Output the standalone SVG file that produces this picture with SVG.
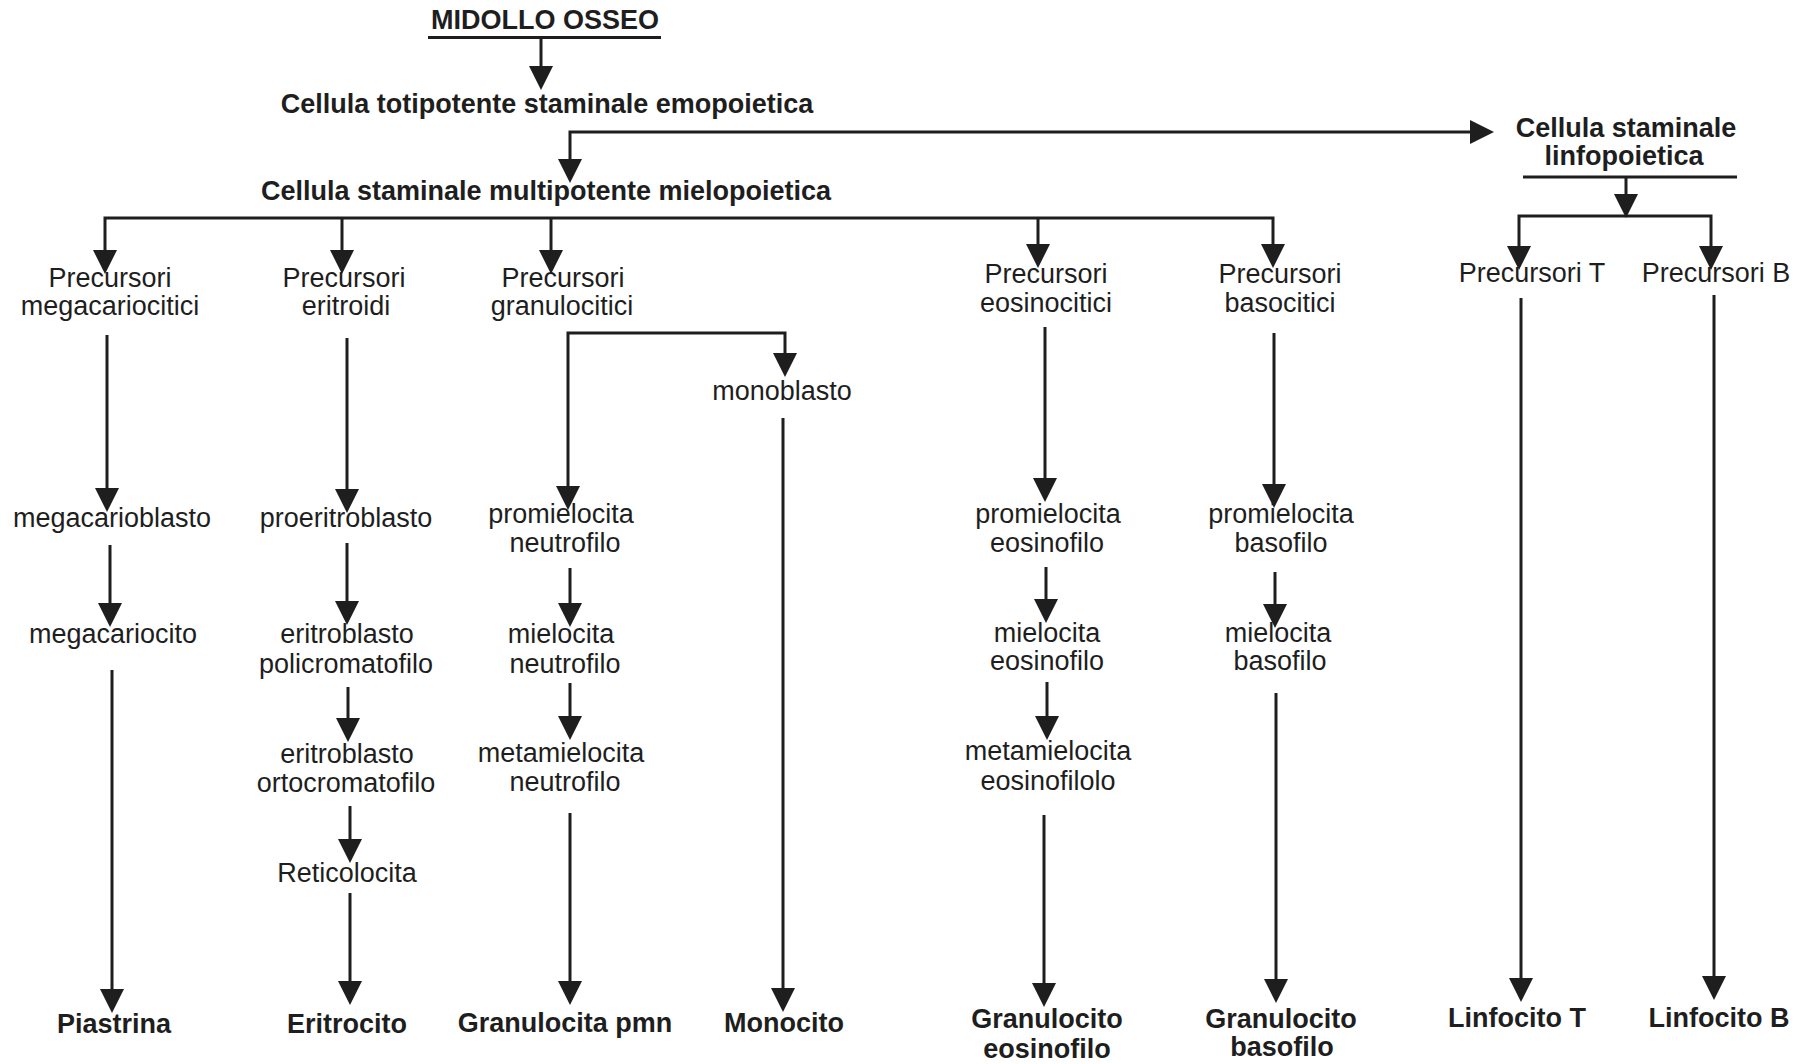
<svg xmlns="http://www.w3.org/2000/svg" width="1798" height="1064" viewBox="0 0 1798 1064">
<style>
.t{font-family:"Liberation Sans",Arial,sans-serif;font-size:27px;fill:#1e1e1e;text-anchor:middle}
.b{font-weight:bold}
.c{stroke:#1e1e1e;stroke-width:3;fill:none}
.a{marker-end:url(#ah)}
.s{marker-start:url(#ah)}
</style>
<defs>
<marker id="ah" markerUnits="userSpaceOnUse" markerWidth="24" markerHeight="24" viewBox="0 0 24 24" refX="18" refY="12" orient="auto-start-reverse"><path d="M0,0 L24,12 L0,24 z" fill="#1e1e1e"/></marker>
</defs>
<rect width="1798" height="1064" fill="#fff"/>
<g id="connectors">
<path class="c a" d="M541 38 V84"/>
<path class="c a s" d="M570 177 V132 H1488"/>
<path class="c a s" d="M105 268 V218 H1273 V262"/>
<path class="c a" d="M342 218 V268"/>
<path class="c a" d="M551 218 V268"/>
<path class="c a" d="M1038 218 V262"/>
<path class="c a" d="M1626 177 V212"/>
<path class="c a s" d="M1519 264 V216 H1711 V264"/>
<path class="c a s" d="M568 504 V333 H785 V371"/>
<path class="c a" d="M107 335 V506"/>
<path class="c a" d="M110 545 V621"/>
<path class="c a" d="M112 670 V1007"/>
<path class="c a" d="M347 338 V507"/>
<path class="c a" d="M347 543 V619"/>
<path class="c a" d="M348 687 V736"/>
<path class="c a" d="M350 806 V857"/>
<path class="c a" d="M350 893 V999"/>
<path class="c a" d="M570 568 V621"/>
<path class="c a" d="M570 683 V734"/>
<path class="c a" d="M570 813 V999"/>
<path class="c a" d="M783 418 V1006"/>
<path class="c a" d="M1045 327 V496"/>
<path class="c a" d="M1046 567 V617"/>
<path class="c a" d="M1047 682 V734"/>
<path class="c a" d="M1044 815 V1001"/>
<path class="c a" d="M1274 333 V502"/>
<path class="c a" d="M1275 572 V622"/>
<path class="c a" d="M1276 693 V997"/>
<path class="c a" d="M1521 298 V996"/>
<path class="c a" d="M1714 295 V994"/>
</g>
<g id="midollo"><text class="t b" x="545" y="29">MIDOLLO OSSEO</text><path class="c" d="M428 37.5 H661"/></g>
<g id="totipotente"><text class="t b" x="547" y="113">Cellula totipotente staminale emopoietica</text></g>
<g id="multipotente"><text class="t b" x="546" y="200">Cellula staminale multipotente mielopoietica</text></g>
<g id="linfopoietica"><text class="t b" x="1626" y="137">Cellula staminale</text><text class="t b" x="1624" y="165">linfopoietica</text><path class="c" d="M1523 177 H1737"/></g>
<g id="prec-mega"><text class="t" x="110" y="287">Precursori</text><text class="t" x="110" y="315">megacariocitici</text></g>
<g id="prec-eritro"><text class="t" x="344" y="287">Precursori</text><text class="t" x="346" y="315">eritroidi</text></g>
<g id="prec-granulo"><text class="t" x="563" y="287">Precursori</text><text class="t" x="562" y="315">granulocitici</text></g>
<g id="prec-eosino"><text class="t" x="1046" y="283">Precursori</text><text class="t" x="1046" y="312">eosinocitici</text></g>
<g id="prec-baso"><text class="t" x="1280" y="283">Precursori</text><text class="t" x="1280" y="312">basocitici</text></g>
<g id="prec-t"><text class="t" x="1532" y="282">Precursori T</text></g>
<g id="prec-b"><text class="t" x="1716" y="282">Precursori B</text></g>
<g id="megacarioblasto"><text class="t" x="112" y="527">megacarioblasto</text></g>
<g id="megacariocito"><text class="t" x="113" y="643">megacariocito</text></g>
<g id="piastrina"><text class="t b" x="114" y="1033">Piastrina</text></g>
<g id="proeritroblasto"><text class="t" x="346" y="527">proeritroblasto</text></g>
<g id="eritro-poli"><text class="t" x="347" y="643">eritroblasto</text><text class="t" x="346" y="673">policromatofilo</text></g>
<g id="eritro-orto"><text class="t" x="347" y="763">eritroblasto</text><text class="t" x="346" y="792">ortocromatofilo</text></g>
<g id="reticolocita"><text class="t" x="347" y="882">Reticolocita</text></g>
<g id="eritrocito"><text class="t b" x="347" y="1033">Eritrocito</text></g>
<g id="promielo-neutro"><text class="t" x="561" y="523">promielocita</text><text class="t" x="565" y="552">neutrofilo</text></g>
<g id="mielo-neutro"><text class="t" x="561" y="643">mielocita</text><text class="t" x="565" y="673">neutrofilo</text></g>
<g id="metamielo-neutro"><text class="t" x="561" y="762">metamielocita</text><text class="t" x="565" y="791">neutrofilo</text></g>
<g id="granulocita-pmn"><text class="t b" x="565" y="1032">Granulocita pmn</text></g>
<g id="monoblasto"><text class="t" x="782" y="400">monoblasto</text></g>
<g id="monocito"><text class="t b" x="784" y="1032">Monocito</text></g>
<g id="promielo-eosino"><text class="t" x="1048" y="523">promielocita</text><text class="t" x="1047" y="552">eosinofilo</text></g>
<g id="mielo-eosino"><text class="t" x="1047" y="642">mielocita</text><text class="t" x="1047" y="670">eosinofilo</text></g>
<g id="metamielo-eosino"><text class="t" x="1048" y="760">metamielocita</text><text class="t" x="1048" y="790">eosinofilolo</text></g>
<g id="granulocito-eosino"><text class="t b" x="1047" y="1028">Granulocito</text><text class="t b" x="1047" y="1058">eosinofilo</text></g>
<g id="promielo-baso"><text class="t" x="1281" y="523">promielocita</text><text class="t" x="1281" y="552">basofilo</text></g>
<g id="mielo-baso"><text class="t" x="1278" y="642">mielocita</text><text class="t" x="1280" y="670">basofilo</text></g>
<g id="granulocito-baso"><text class="t b" x="1281" y="1028">Granulocito</text><text class="t b" x="1282" y="1056">basofilo</text></g>
<g id="linfocito-t"><text class="t b" x="1517" y="1027">Linfocito T</text></g>
<g id="linfocito-b"><text class="t b" x="1719" y="1027">Linfocito B</text></g>
</svg>
